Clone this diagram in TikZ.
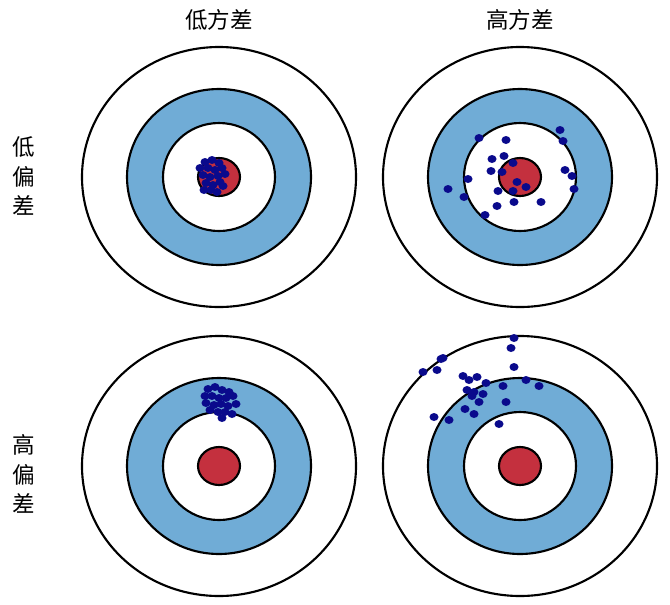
\documentclass[tikz,border=0pt]{standalone}
\usepackage{fontspec}
\newfontfamily\cjk{Noto Sans CJK SC}
\definecolor{ringblue}{RGB}{112,172,214}
\definecolor{bullred}{RGB}{196,48,62}
\definecolor{dotblue}{RGB}{10,10,140}
\begin{document}
\begin{tikzpicture}[x=0.0265cm,y=-0.0265cm,
  ring/.style={draw=black,line width=1.6pt},
  dot/.style={fill=dotblue},
  lab/.style={font=\cjk\fontsize{17}{20}\selectfont}]
\useasboundingbox (0,0) rectangle (670,604);
\newcommand\mytarget[3]{%
  \node[coordinate] (#3) at (#1,#2) {};
  \draw[ring,fill=white] (#3) ellipse [x radius=137,y radius=130];
  \draw[ring,fill=ringblue] (#3) ellipse [x radius=92,y radius=88];
  \draw[ring,fill=white] (#3) ellipse [x radius=56,y radius=54];
  \draw[ring,fill=bullred] (#3) ellipse [x radius=21,y radius=19];}
\mytarget{219}{177}{tl}
\mytarget{520}{177}{tr}
\mytarget{219}{466}{bl}
\mytarget{520}{466}{br}
% top-left cluster
\foreach \p in {(205,162),(212,160),(219,163),(208,168),(215,170),(222,168),(203,175),(210,177),(218,176),(225,174),(206,183),(213,185),(220,182),(211,190),(217,192),(204,190),(223,186),(200,168)}
  \fill[dot] \p ellipse [x radius=4.5,y radius=4];
% top-right
\foreach \p in {(479,138),(506,140),(560,130),(563,141),(504,156),(492,159),(513,163),(491,171),(502,172),(565,170),(572,176),(468,179),(448,189),(517,182),(526,187),(498,191),(513,191),(464,197),(514,202),(541,202),(574,189),(497,206),(485,215)}
  \fill[dot] \p ellipse [x radius=4.5,y radius=4];
% bottom-left cluster
\foreach \p in {(208,389),(215,387),(222,390),(229,392),(212,396),(219,398),(226,398),(233,396),(206,403),(214,405),(221,404),(228,406),(236,404),(210,410),(218,412),(225,412),(232,414),(222,418),(205,396)}
  \fill[dot] \p ellipse [x radius=4.5,y radius=4];
% bottom-right
\foreach \p in {(514,338),(511,348),(441,359),(443,358),(423,372),(437,370),(514,367),(463,376),(469,380),(477,377),(486,383),(526,380),(539,386),(503,386),(467,390),(474,392),(472,396),(483,394),(479,402),(506,402),(465,409),(474,414),(434,417),(449,420),(499,424)}
  \fill[dot] \p ellipse [x radius=4.5,y radius=4];
\node[lab] (t1) at (219,20) {低方差};
\node[lab] (t2) at (520,20) {高方差};
\node[lab,align=center] (l1) at (24,176) {低\\[2pt]偏\\[2pt]差};
\node[lab,align=center] (l2) at (24,474) {高\\[2pt]偏\\[2pt]差};
\end{tikzpicture}
\end{document}
